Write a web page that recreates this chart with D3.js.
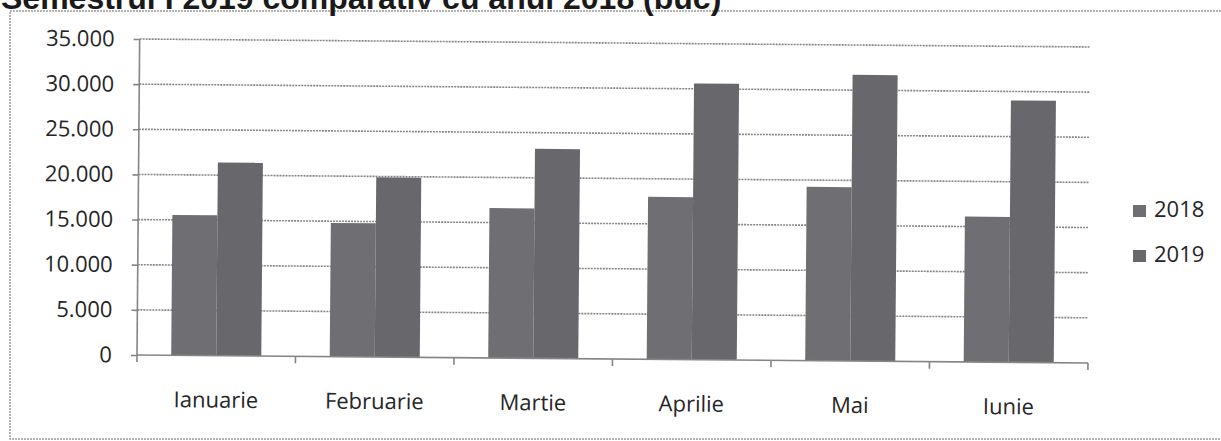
<!DOCTYPE html>
<html>
<head>
	<meta charset="utf-8">
	<title>Semestrul I 2019 comparativ cu anul 2018</title>
	<script src="https://cdnjs.cloudflare.com/ajax/libs/d3/7.8.5/d3.min.js"></script>
	<style>
		body { margin: 0; background: white; }
		text { font-family: "Open Sans", "Noto Sans", sans-serif; fill: #262626; }
		.title { font-family: "Liberation Sans", Arial, sans-serif; font-weight: bold; font-size: 32px; fill: #1a1a1a; }
		.grid line { stroke: #858585; stroke-width: 1.6; stroke-dasharray: 2 1; }
		.axis path, .axis line { fill: none; stroke: #858585; stroke-width: 1.6; }
		.axis text { font-size: 22px; }
	</style>
</head>
<body>
	<svg id="main" width="1221" height="441"></svg>

	<script>

		var months = ['Ianuarie', 'Februarie', 'Martie', 'Aprilie', 'Mai', 'Iunie'];
		var years = ['2018', '2019'];
		var values2018 = [15550, 14800, 16600, 18000, 19250, 16100];
		var values2019 = [21400, 19900, 23200, 30600, 31700, 29000];
		var yTicks = [0, 5000, 10000, 15000, 20000, 25000, 30000, 35000];

		var colors = { '2018': '#6f6f73', '2019': '#68686c' };

		var svg = d3.select('#main');

		// plot area
		var plotLeft = 137, plotTop = 39, plotW = 951, plotH = 316;

		// scanned page is a little tilted
		var g = svg.append('g')
			.attr('transform', 'translate(' + plotLeft + ',' + plotTop + ') rotate(0.48, 0, ' + plotH + ')');

		var y = d3.scaleLinear().domain([0, 35000]).range([plotH, 0]);
		var x0 = d3.scaleBand().domain(months).range([0, plotW]);
		var x1 = d3.scaleBand().domain(years).range([0, x0.bandwidth()]).paddingOuter(0.76);

		var fmt = function(d) { return d === 0 ? '0' : d3.format(',')(d).replace(/,/g, '.'); };

		// gridlines
		g.append('g').attr('class', 'grid')
			.selectAll('line').data(yTicks.slice(1)).enter().append('line')
			.attr('x1', 0).attr('x2', plotW)
			.attr('y1', function(d) { return y(d); })
			.attr('y2', function(d) { return y(d); });

		// bars
		var data = months.map(function(m, i) {
			return { month: m, values: [{ year: '2018', v: values2018[i] }, { year: '2019', v: values2019[i] }] };
		});

		g.append('g').selectAll('g').data(data).enter().append('g')
			.attr('transform', function(d) { return 'translate(' + x0(d.month) + ',0)'; })
			.selectAll('rect').data(function(d) { return d.values; }).enter().append('rect')
			.attr('x', function(d) { return x1(d.year); })
			.attr('width', x1.bandwidth())
			.attr('y', function(d) { return y(d.v); })
			.attr('height', function(d) { return plotH - y(d.v); })
			.attr('fill', function(d) { return colors[d.year]; });

		// y axis
		var yAxis = g.append('g').attr('class', 'axis')
			.call(d3.axisLeft(y).tickValues(yTicks).tickFormat(fmt).tickSize(6).tickPadding(19));
		yAxis.select('.domain').attr('d', 'M0,' + plotH + 'V0');

		// x axis, ticks between categories
		var xAxis = g.append('g').attr('class', 'axis')
			.attr('transform', 'translate(0,' + plotH + ')');
		xAxis.append('line').attr('x1', 0).attr('x2', plotW);
		xAxis.selectAll('.tk').data(d3.range(months.length + 1)).enter().append('line')
			.attr('class', 'tk')
			.attr('x1', function(i) { return i * x0.step(); })
			.attr('x2', function(i) { return i * x0.step(); })
			.attr('y1', 0).attr('y2', 7);
		xAxis.selectAll('text').data(months).enter().append('text')
			.attr('x', function(d) { return x0(d) + x0.bandwidth() / 2; })
			.attr('y', 52)
			.attr('text-anchor', 'middle')
			.text(function(d) { return d; });

		// legend
		var legend = svg.append('g').selectAll('g').data(years).enter().append('g')
			.attr('transform', function(d, i) { return 'translate(1133,' + (205 + i * 45) + ')'; });
		legend.append('rect').attr('width', 13).attr('height', 12)
			.attr('fill', function(d) { return colors[d]; });
		legend.append('text').attr('x', 21).attr('y', 12).style('font-size', '22px')
			.text(function(d) { return d; });

		// outer frame and title (title cut by page edge, as in the scan)
		svg.append('rect').attr('x', 10).attr('y', 11).attr('width', 1225).attr('height', 428)
			.attr('fill', 'none').attr('stroke', '#9a9a9a').attr('stroke-width', 1.5)
			.attr('stroke-dasharray', '2 1');
		svg.append('text').attr('class', 'title').attr('x', 1).attr('y', 9)
			.text('Semestrul I 2019 comparativ cu anul 2018 (buc)');

	</script>
</body>
</html>
